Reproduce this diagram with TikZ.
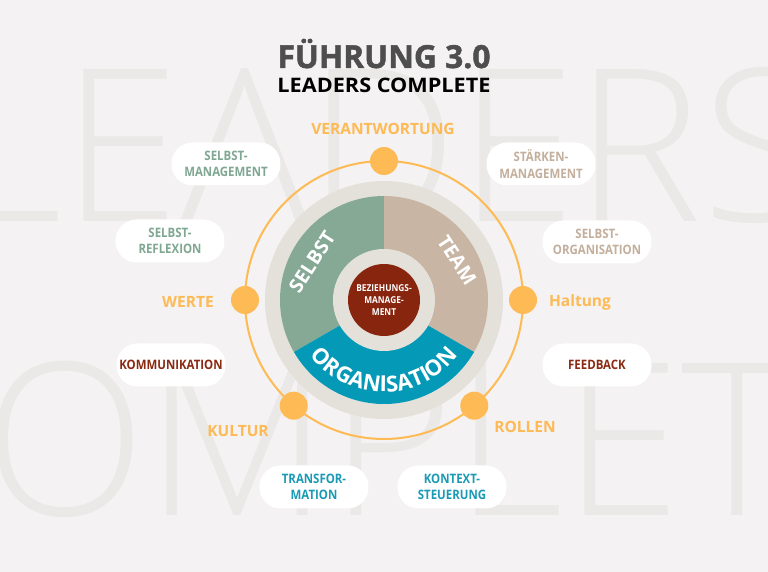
\documentclass[tikz,border=0pt]{standalone}
\usepackage{fontspec}
\setmainfont{Open Sans}
\newfontfamily\condf[FakeStretch=0.88]{Open Sans}
\IfFontExistsTF{Open Sans Light}{\newfontfamily\lightf{Open Sans Light}}{\newfontfamily\lightf{Open Sans}}
\IfFontExistsTF{Open Sans ExtraBold}{\newfontfamily\xboldf{Open Sans ExtraBold}}{\newfontfamily\xboldf[FakeBold=1.5]{Open Sans Bold}}
\usetikzlibrary{decorations.text}
\definecolor{bgc}{HTML}{F4F2F2}
\definecolor{bgtext}{HTML}{EBE9E7}
\definecolor{diskgrey}{HTML}{E4E1DB}
\definecolor{sage}{HTML}{86A996}
\definecolor{sagetext}{HTML}{7FA792}
\definecolor{tan}{HTML}{C8B5A3}
\definecolor{tantext}{HTML}{C3AF9C}
\definecolor{teal}{HTML}{0499B6}
\definecolor{tealtext}{HTML}{1A9AB5}
\definecolor{rust}{HTML}{87250E}
\definecolor{rusttext}{HTML}{8A2A12}
\definecolor{orange}{HTML}{FDBA55}
\definecolor{titlegrey}{HTML}{4E4E4E}
\tikzset{
  pill/.style={fill=white, rounded corners=21pt, minimum width=109pt, minimum height=43pt,
    inner sep=0pt, align=center, font=\condf\bfseries\fontsize{13}{16.5}\selectfont},
  dot/.style={circle, fill=orange, minimum size=28pt, inner sep=0pt},
  olabel/.style={text=orange, font=\bfseries\fontsize{15.5}{18}\selectfont, inner sep=0pt},
  sector/.style={white, font=\bfseries\fontsize{19.5}{19.5}\selectfont, inner sep=0pt},
  bigbg/.style={text=bgtext, font=\lightf\fontsize{213}{213}\selectfont, inner sep=0pt, anchor=base west}
}
\begin{document}
\begin{tikzpicture}[x=1pt,y=1pt]
\useasboundingbox (-384,-272) rectangle (384,300);
\fill[bgc] (-384,-272) rectangle (384,300);
\begin{scope}
\clip (-384,-272) rectangle (384,300);
\node[bigbg] (bgA) at (-431,78) {LEADERS};
\node[bigbg] (bgB) at (-529,-215) {COMPLETE};
\end{scope}
% title
\node[text=titlegrey, anchor=base, inner sep=0pt] (title) at (0,232)
  {\resizebox{213pt}{!}{\xboldf\fontsize{30}{30}\selectfont FÜHRUNG 3.0}};
\node[text=black, anchor=base, inner sep=0pt] (subtitle) at (0,207)
  {\resizebox{213pt}{14.5pt}{\bfseries\fontsize{20}{20}\selectfont LEADERS COMPLETE}};
% wheel
\fill[diskgrey] (0,0) circle[radius=119];
\fill[sage] (0,0) -- (90:104) arc[start angle=90, end angle=210, radius=104] -- cycle;
\fill[tan] (0,0) -- (-30:104) arc[start angle=-30, end angle=90, radius=104] -- cycle;
\fill[teal] (0,0) -- (210:104) arc[start angle=210, end angle=330, radius=104] -- cycle;
\fill[diskgrey] (0,0) circle[radius=51];
\node[circle, fill=rust, minimum size=72pt, inner sep=0pt, text=white, align=center,
  font=\condf\bfseries\fontsize{9.5}{12}\selectfont] (core) at (0,0) {BEZIEHUNGS-\\MANAGE-\\MENT};
\node[sector, rotate=57] (selbst) at (-72,38) {SELBST};
\node[sector, rotate=-57] (team) at (73,40) {TEAM};
\path[decorate, decoration={text along path, text align=center,
  text={|\bfseries\fontsize{22}{22}\selectfont\color{white}|ORGANISATION}}]
  (208:92) arc[start angle=208, end angle=332, radius=92];
% ring and dots
\draw[orange, line width=2pt] (0,0) circle[radius=139];
\node[dot] (dtop) at (90:139) {};
\node[dot] (dleft) at (180:139) {};
\node[dot] (dright) at (0:139) {};
\node[dot] (dbl) at (-130.5:139) {};
\node[dot] (dbr) at (-49.5:139) {};
% orange labels
\node[olabel] (verantw) at (-1,171) {VERANTWORTUNG};
\node[olabel] (werte) at (-196,-2) {WERTE};
\node[olabel] (haltung) at (196,-2) {Haltung};
\node[olabel] (kultur) at (-146,-131) {KULTUR};
\node[olabel] (rollen) at (141,-127) {ROLLEN};
% pills
\node[pill, text=sagetext] (smgmt) at (-158,136) {SELBST-\\MANAGEMENT};
\node[pill, text=tantext] (staerken) at (157,136) {STÄRKEN-\\MANAGEMENT};
\node[pill, text=sagetext] (sreflex) at (-214,59) {SELBST-\\REFLEXION};
\node[pill, text=tantext] (sorg) at (213,58) {SELBST-\\ORGANISATION};
\node[pill, text=rusttext] (komm) at (-213,-65) {KOMMUNIKATION};
\node[pill, text=rusttext] (feedback) at (213,-65) {FEEDBACK};
\node[pill, text=tealtext] (transf) at (-70,-187) {TRANSFOR-\\MATION};
\node[pill, text=tealtext] (kontext) at (68,-187) {KONTEXT-\\STEUERUNG};
\end{tikzpicture}
\end{document}
